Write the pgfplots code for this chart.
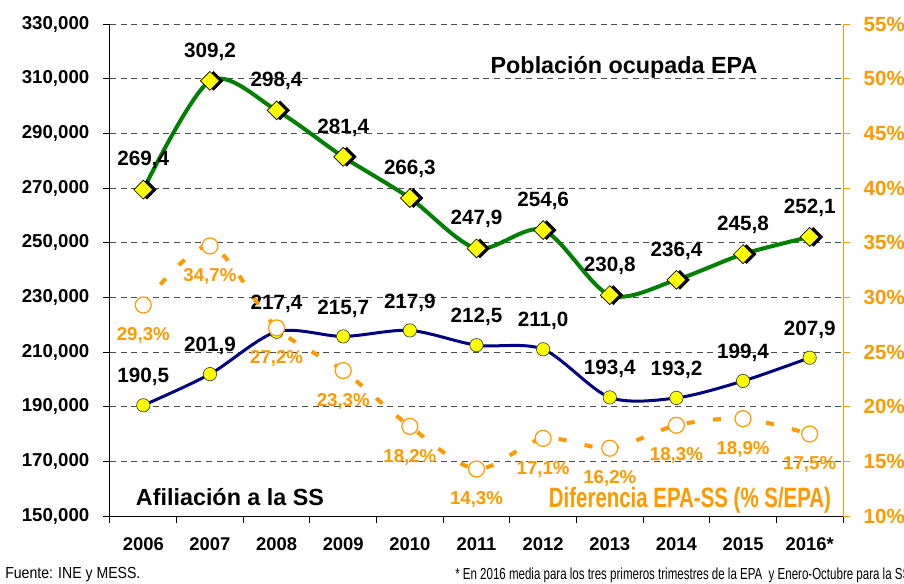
\documentclass[border=0pt]{standalone}
\usepackage{fontspec}
\setmainfont{Liberation Sans}
\usepackage{graphicx}
\usepackage{pgfplots}
\pgfplotsset{compat=1.18}
\usepackage{pgfplotstable}

\definecolor{epagreen}{HTML}{008000}
\definecolor{ssblue}{HTML}{000080}
\definecolor{difforange}{HTML}{FF9900}
\definecolor{mkyellow}{HTML}{FFFF00}

% Poblacion ocupada EPA (miles)
\pgfplotstableread{
x y lab
0 269.4 269,4
1 309.2 309,2
2 298.4 298,4
3 281.4 281,4
4 266.3 266,3
5 247.9 247,9
6 254.6 254,6
7 230.8 230,8
8 236.4 236,4
9 245.8 245,8
10 252.1 252,1
}\epa

% Afiliacion a la SS (miles)
\pgfplotstableread{
x y lab
0 190.5 190,5
1 201.9 201,9
2 217.4 217,4
3 215.7 215,7
4 217.9 217,9
5 212.5 212,5
6 211.0 211,0
7 193.4 193,4
8 193.2 193,2
9 199.4 199,4
10 207.9 207,9
}\ss

% Diferencia EPA-SS (% s/EPA)
\pgfplotstableread{
x y lab
0 29.3 29,3
1 34.7 34,7
2 27.2 27,2
3 23.3 23,3
4 18.2 18,2
5 14.3 14,3
6 17.1 17,1
7 16.2 16,2
8 18.3 18,3
9 18.9 18,9
10 17.5 17,5
}\dif

\begin{document}
\begin{tikzpicture}
\useasboundingbox (-82.5pt,-50.25pt) rectangle (595.5pt,387pt);

\begin{axis}[
    at={(0,0)}, anchor=south west,
    scale only axis, width=549.75pt, height=369pt,
    xmin=-0.5, xmax=10.5, ymin=150, ymax=330,
    axis x line*=bottom, axis y line*=left,
    axis line style={black, line width=0.75pt},
    /pgf/number format/assume math mode=true,
    tick align=outside,
    major tick length=5pt, minor tick length=5pt,
    tick style={black, line width=0.75pt},
    xtick={0,1,...,10},
    xticklabels={2006,2007,2008,2009,2010,2011,2012,2013,2014,2015,2016*},
    major x tick style={draw=none},
    minor xtick={-0.5,0.5,...,10.5},
    xticklabel style={font=\fontsize{13.8}{16}\selectfont\bfseries, yshift=-8pt},
    ytick={150,170,...,330},
    yticklabel={\pgfmathprintnumber[fixed,precision=0,assume math mode=true]{\tick},000},
    yticklabel style={font=\fontsize{14}{16}\selectfont\bfseries, xshift=-7pt},
    ymajorgrids,
    grid style={black!70, line width=0.75pt, dash pattern=on 4.5pt off 3.5pt},
    clip=false,
]
\addplot[epagreen, line width=3pt, smooth] table[x=x, y=y] {\epa};
\addplot[only marks, mark=square*, mark size=5pt,
    mark options={rotate=45, fill=black, draw=black, xshift=1.9pt, yshift=-1.9pt}]
    table[x=x, y=y] {\epa};
\addplot[only marks, mark=square*, mark size=5pt,
    mark options={rotate=45, fill=mkyellow, draw=black, line width=0.5pt},
    nodes near coords, point meta=explicit symbolic,
    nodes near coords style={anchor=center, yshift=22pt, text=black,
        font=\fontsize{15.5}{18}\selectfont\bfseries}]
    table[x=x, y=y, meta=lab] {\epa};

\addplot[ssblue, line width=2.25pt, smooth] table[x=x, y=y] {\ss};
\addplot[only marks, mark=*, mark size=5pt,
    mark options={fill=mkyellow, draw=black!75, line width=0.5pt},
    nodes near coords, point meta=explicit symbolic,
    nodes near coords style={anchor=center, yshift=21pt, text=black,
        font=\fontsize{15.5}{18}\selectfont\bfseries}]
    table[x=x, y=y, meta=lab] {\ss};
\end{axis}

\begin{axis}[
    at={(0,0)}, anchor=south west,
    scale only axis, width=549.75pt, height=369pt,
    xmin=-0.5, xmax=10.5, ymin=10, ymax=55,
    axis x line=none, axis y line*=right,
    axis line style={difforange, line width=0.75pt},
    /pgf/number format/assume math mode=true,
    tick align=outside,
    major tick length=5pt,
    ytick={10,15,...,55},
    ytick style={difforange, line width=0.75pt},
    yticklabel={\pgfmathprintnumber[assume math mode=true]{\tick}\%},
    yticklabel style={text=difforange, font=\fontsize{15.4}{18}\selectfont\bfseries, xshift=7pt},
    clip=false,
]
\addplot[difforange, line width=3pt, smooth, dash pattern=on 6pt off 14pt] table[x=x, y=y] {\dif};
\addplot[only marks, mark=*, mark size=6pt,
    mark options={fill=white, draw=difforange, line width=0.9pt},
    nodes near coords={\pgfplotspointmeta\%}, point meta=explicit symbolic,
    nodes near coords style={anchor=center, yshift=-23pt, text=difforange,
        font=\fontsize{14}{16}\selectfont\bfseries}]
    table[x=x, y=y, meta=lab] {\dif};
\end{axis}

\node[font=\fontsize{17.5}{20}\selectfont\bfseries] at (385.5pt,336.75pt) {Población ocupada EPA};
\node[font=\fontsize{17.5}{20}\selectfont\bfseries] at (90pt,14.25pt) {Afiliación a la SS};
\node[text=difforange, font=\fontsize{21}{24}\selectfont\bfseries] at (435pt,12pt)
    {\scalebox{0.73}[1]{Diferencia EPA-SS (\% S/EPA)}};
\node[anchor=west, inner sep=0pt, font=\fontsize{12}{14}\selectfont] at (-78.75pt,-44.25pt)
    {\scalebox{0.88}[1]{Fuente: INE y MESS.}};
\node[anchor=west, inner sep=0pt, font=\fontsize{12}{14}\selectfont] at (258.75pt,-44.25pt)
    {\scalebox{0.72}[1]{* En 2016 media para los tres primeros trimestres de la EPA\ \ y Enero-Octubre para la SS}};
\end{tikzpicture}
\end{document}
